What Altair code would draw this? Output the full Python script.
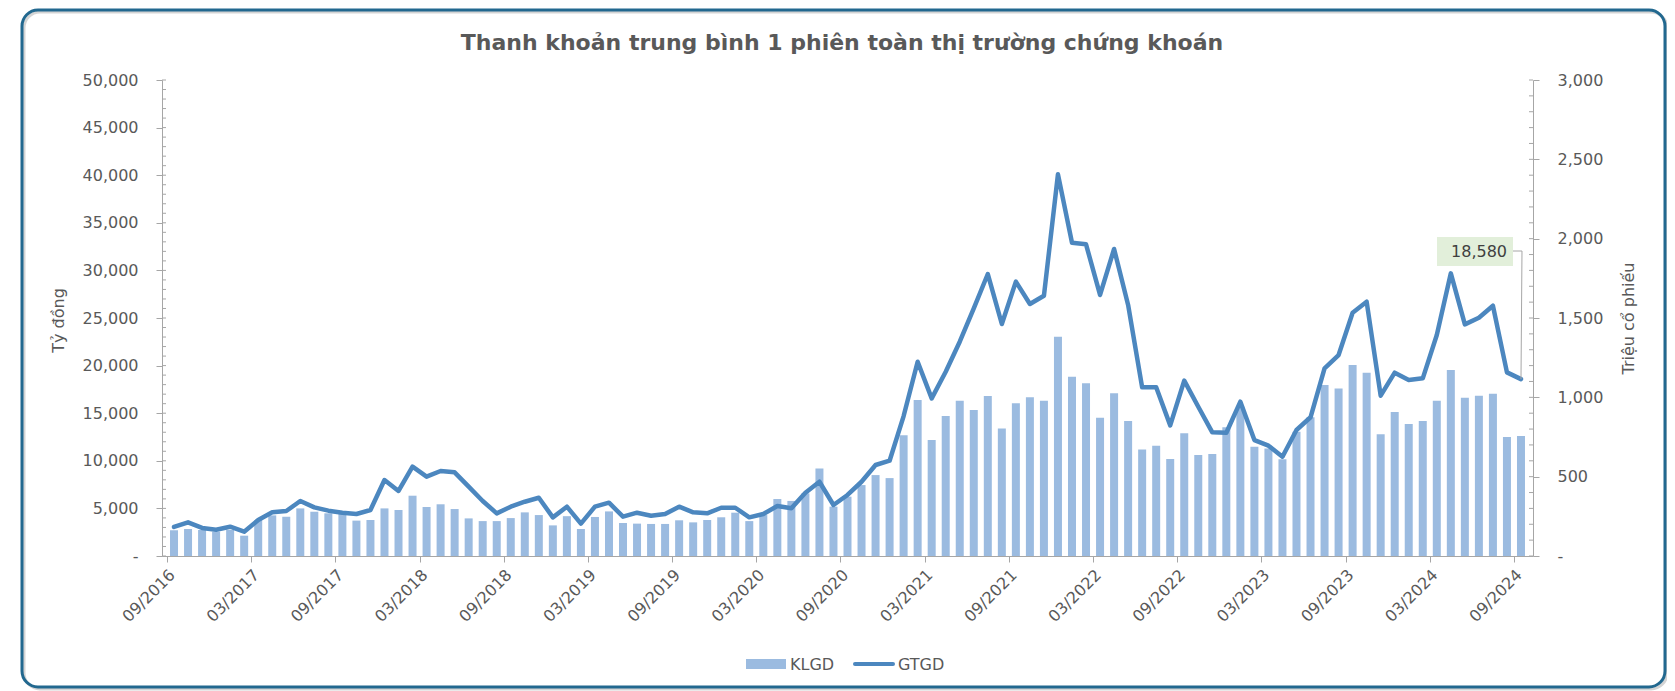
import altair as alt
import pandas as pd

# ---------------- data ----------------
start_year, start_month = 2016, 9

# KLGD - average matched volume per session (million shares, right axis)
klgd = [162, 170, 164, 153, 164, 128, 227, 256, 248, 300,
        279, 269, 265, 223, 227, 300, 290, 380, 309, 326,
        296, 237, 220, 220, 239, 275, 258, 193, 251, 170,
        246, 281, 208, 204, 202, 202, 225, 212, 227, 244,
        273, 220, 258, 359, 347, 395, 552, 311, 374, 447,
        510, 491, 761, 983, 731, 882, 978, 920, 1008, 804,
        962, 1000, 978, 1382, 1130, 1088, 871, 1025, 851, 672,
        695, 611, 773, 636, 643, 811, 940, 689, 678, 609,
        783, 874, 1077, 1056, 1203, 1155, 767, 907, 832, 851,
        978, 1172, 997, 1010, 1023, 750, 756]

# GTGD - average traded value per session (billion VND, left axis)
gtgd = [3050, 3540, 2950, 2760, 3080, 2550, 3780, 4590, 4730, 5780,
        5110, 4760, 4550, 4410, 4830, 7980, 6830, 9380, 8330, 8930,
        8790, 7280, 5780, 4480, 5180, 5700, 6120, 4060, 5180, 3400,
        5180, 5600, 4130, 4550, 4230, 4410, 5180, 4590, 4480, 5070,
        5070, 4060, 4410, 5250, 5010, 6650, 7800, 5360, 6410, 7800,
        9560, 10010, 14700, 20410, 16560, 19360, 22510, 26010, 29620, 24370,
        28820, 26470, 27340, 40090, 32910, 32740, 27420, 32250, 26370, 17720,
        17720, 13720, 18420, 15680, 12990, 12950, 16210, 12180, 11590, 10430,
        13240, 14570, 19710, 21110, 25560, 26710, 16840, 19260, 18490, 18660,
        23210, 29690, 24330, 25030, 26290, 19290, 18580]

n = len(klgd)
months = [f"{(start_month - 1 + i) % 12 + 1:02d}/{start_year + (start_month - 1 + i) // 12}"
          for i in range(n)]
tick_labels = months[::6]
series_names = ["KLGD", "GTGD"]
title_text = "Thanh khoản trung bình 1 phiên toàn thị trường chứng khoán"
left_title = "Tỷ đồng"
right_title = "Triệu cổ phiếu"
left_ticks = list(range(0, 50001, 5000))
right_ticks = list(range(0, 3001, 500))

df = pd.DataFrame({"idx": list(range(n)), "month": months, "klgd": klgd, "gtgd": gtgd})

# ---------------- styling ----------------
W, H = 1371, 476
FONT = "DejaVu Sans"
TXT = "#595959"
AX = "#a6a6a6"
BAR = "#9bbbe0"
LINE = "#4c87bf"
FRAME = "#22688f"

x_scale = alt.Scale(domain=[0, n], nice=False, zero=False)
label_expr = "[" + ",".join(repr(t) for t in tick_labels) + "][round(datum.value / 6)]"
x_axis = alt.Axis(values=list(range(0, n, 6)), labelExpr=label_expr, labelAngle=315,
                  labelAlign="right", labelBaseline="middle", labelPadding=10, labelOffset=5,
                  labelFlush=False, labelOverlap=False, tickSize=6, grid=False, title=None,
                  domainColor=AX, tickColor=AX, labelColor=TXT, labelFont=FONT, labelFontSize=16)

left_scale = alt.Scale(domain=[0, 50000], nice=False, zero=True)
right_scale = alt.Scale(domain=[0, 3000], nice=False, zero=True)

left_axis = alt.Axis(orient="left", values=left_ticks,
                     labelExpr="datum.value == 0 ? '-\u00a0\u00a0' : format(datum.value, ',')",
                     labelPadding=18, tickSize=6, grid=False, labelOverlap=False,
                     domainColor=AX, tickColor=AX, labelColor=TXT, labelFont=FONT, labelFontSize=16,
                     title=left_title, titleFont=FONT, titleFontSize=16, titleFontWeight="normal",
                     titleColor=TXT, titleAngle=270, titleX=-104, titleY=240,
                     titleAlign="center", titleBaseline="middle")
right_axis = alt.Axis(orient="right", values=right_ticks,
                      labelExpr="datum.value == 0 ? '-' : format(datum.value, ',')",
                      labelPadding=18, tickSize=6, grid=False, labelOverlap=False,
                      domainColor=AX, tickColor=AX, labelColor=TXT, labelFont=FONT, labelFontSize=16,
                      title=right_title, titleFont=FONT, titleFontSize=16, titleFontWeight="normal",
                      titleColor=TXT, titleAngle=270, titleX=95, titleY=238,
                      titleAlign="center", titleBaseline="middle")

base = alt.Chart(df).transform_calculate(c="datum.idx + 0.5")

one = pd.DataFrame({"k": [1]})

shadow = alt.Chart(one).mark_rect(fillOpacity=0, stroke="#c9c9c9", strokeWidth=3,
                                  cornerRadius=16, strokeOpacity=0.8).encode(
    x=alt.value(-138), x2=alt.value(1505), y=alt.value(-68), y2=alt.value(609))
frame = alt.Chart(one).mark_rect(fillOpacity=0, stroke=FRAME, strokeWidth=3,
                                 cornerRadius=16).encode(
    x=alt.value(-140), x2=alt.value(1503), y=alt.value(-70), y2=alt.value(607))

bars = base.mark_bar(color=BAR, size=8).encode(
    x=alt.X("c:Q", scale=x_scale, axis=x_axis),
    y=alt.Y("klgd:Q", scale=right_scale, axis=right_axis),
)

line = base.mark_line(color=LINE, strokeWidth=4.5, strokeJoin="round", strokeCap="round").encode(
    x=alt.X("c:Q", scale=x_scale, axis=x_axis),
    y=alt.Y("gtgd:Q", scale=left_scale, axis=left_axis),
)

minor_left = alt.Chart(pd.DataFrame({"v": list(range(0, 50001, 1000))})).mark_rule(
    color=AX, strokeWidth=1).encode(
    y=alt.Y("v:Q", scale=left_scale, axis=None), x=alt.value(0), x2=alt.value(4))
minor_right = alt.Chart(pd.DataFrame({"v": list(range(0, 3001, 100))})).mark_rule(
    color=AX, strokeWidth=1).encode(
    y=alt.Y("v:Q", scale=right_scale, axis=None), x=alt.value(W - 4), x2=alt.value(W))

# annotation of the last value
last = base.transform_filter(f"datum.idx == {n - 1}")
ann_box = alt.Chart(one).mark_rect(fill="#e2efda").encode(
    x=alt.value(1275), x2=alt.value(1351), y=alt.value(157), y2=alt.value(186))
ann_text = last.mark_text(align="right", baseline="middle", fontSize=16, font=FONT,
                          color="#404040").encode(
    text=alt.Text("gtgd:Q", format=","), x=alt.value(1345), y=alt.value(172))
lead_h = alt.Chart(one).mark_rule(color=AX, strokeWidth=1).encode(
    x=alt.value(1351), x2=alt.value(1360), y=alt.value(171))
lead_d = last.mark_rule(color=AX, strokeWidth=1).encode(
    x=alt.X("c:Q", scale=x_scale, axis=x_axis),
    y=alt.Y("gtgd:Q", scale=left_scale, axis=None),
    x2=alt.value(1360), y2=alt.value(171))

# legend
leg = pd.DataFrame({"name": series_names})
leg_bar = alt.Chart(one).mark_rect(color=BAR).encode(
    x=alt.value(584), x2=alt.value(624), y=alt.value(579), y2=alt.value(589))
leg_line = alt.Chart(one).mark_rule(color=LINE, strokeWidth=4, strokeCap="round").encode(
    x=alt.value(693), x2=alt.value(731), y=alt.value(584))
leg_t1 = alt.Chart(leg).transform_filter(f"datum.name == '{series_names[0]}'").mark_text(
    align="left", baseline="middle", fontSize=16, font=FONT, color=TXT).encode(
    text="name:N", x=alt.value(628), y=alt.value(585))
leg_t2 = alt.Chart(leg).transform_filter(f"datum.name == '{series_names[1]}'").mark_text(
    align="left", baseline="middle", fontSize=16, font=FONT, color=TXT).encode(
    text="name:N", x=alt.value(736), y=alt.value(585))

title = alt.Chart(pd.DataFrame({"t": [title_text]})).mark_text(
    align="center", baseline="alphabetic", fontSize=22, fontWeight="bold", font=FONT,
    color=TXT).encode(text="t:N", x=alt.value(680), y=alt.value(-30))

chart = alt.layer(
    shadow, frame, bars, line, minor_left, minor_right,
    ann_box, ann_text, lead_h, lead_d,
    leg_bar, leg_line, leg_t1, leg_t2, title,
).resolve_scale(y="independent").properties(
    width=W, height=H,
    autosize=alt.AutoSizeParams(type="none"),
    padding={"left": 154, "top": 72, "right": 134, "bottom": 135},
    background="white",
).configure_view(stroke=None)

chart.save("out.html", embed_options={"renderer": "svg", "actions": False})
